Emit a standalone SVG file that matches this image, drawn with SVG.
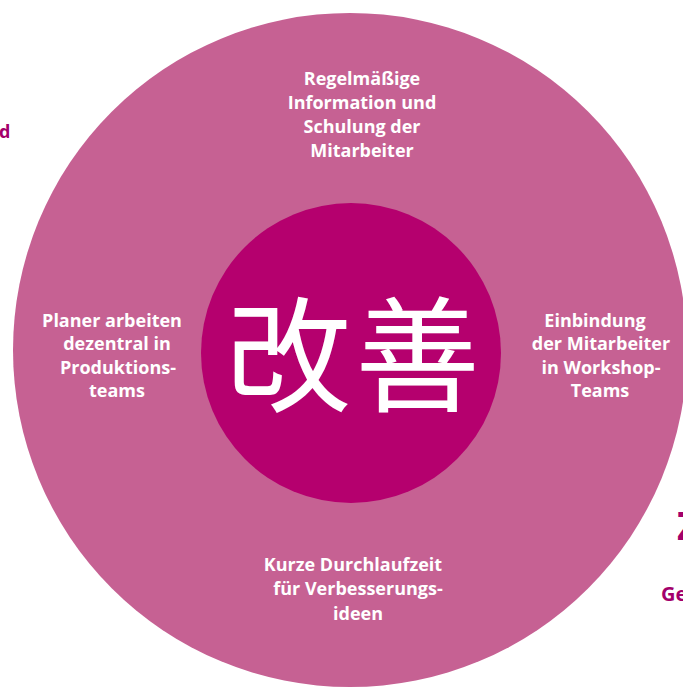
<svg xmlns="http://www.w3.org/2000/svg" width="683" height="689" viewBox="0 0 683 689">
<style>
.lbl{font-family:"Open Sans","Liberation Sans",sans-serif;font-weight:bold;font-size:18px;fill:#ffffff;text-anchor:middle}
.out{font-family:"Open Sans","Liberation Sans",sans-serif;font-weight:bold;fill:#a3006b}
.kanji{font-family:"Noto Sans CJK JP","Noto Sans CJK SC",sans-serif;font-size:125px;fill:#ffffff;text-anchor:middle}
</style>
<rect width="683" height="689" fill="#ffffff"/>
<g id="outer-ring"><circle cx="350" cy="350" r="337" fill="#c66193"/></g>
<g id="center"><circle cx="351" cy="353" r="150" fill="#b5006e"/>
<text class="kanji" x="355" y="402" letter-spacing="4">改善</text></g>
<g id="top-label"><text class="lbl" x="362"><tspan x="362" y="85">Regelmäßige</tspan><tspan x="362" y="109">Information und</tspan><tspan x="362" y="133">Schulung der</tspan><tspan x="362" y="157">Mitarbeiter</tspan></text></g>
<g id="left-label"><text class="lbl" x="116"><tspan x="112" y="327">Planer arbeiten</tspan><tspan x="117" y="350">dezentral in</tspan><tspan x="118" y="374">Produktions-</tspan><tspan x="117" y="397">teams</tspan></text></g>
<g id="right-label"><text class="lbl" x="600"><tspan x="595" y="327">Einbindung</tspan><tspan x="601" y="350">der Mitarbeiter</tspan><tspan x="601" y="374">in Workshop-</tspan><tspan x="600" y="397">Teams</tspan></text></g>
<g id="bottom-label"><text class="lbl" x="356"><tspan x="353" y="571">Kurze Durchlaufzeit</tspan><tspan x="358" y="595">für Verbesserungs-</tspan><tspan x="358" y="620">ideen</tspan></text></g>
<g id="outside-texts">
<text class="out" x="-1" y="137.5" font-size="18">d</text>
<text class="out" x="677" y="540" font-size="40">Z</text>
<text class="out" x="661" y="601" font-size="20">Ge</text>
</g>
<g id="connectors"/>
</svg>
